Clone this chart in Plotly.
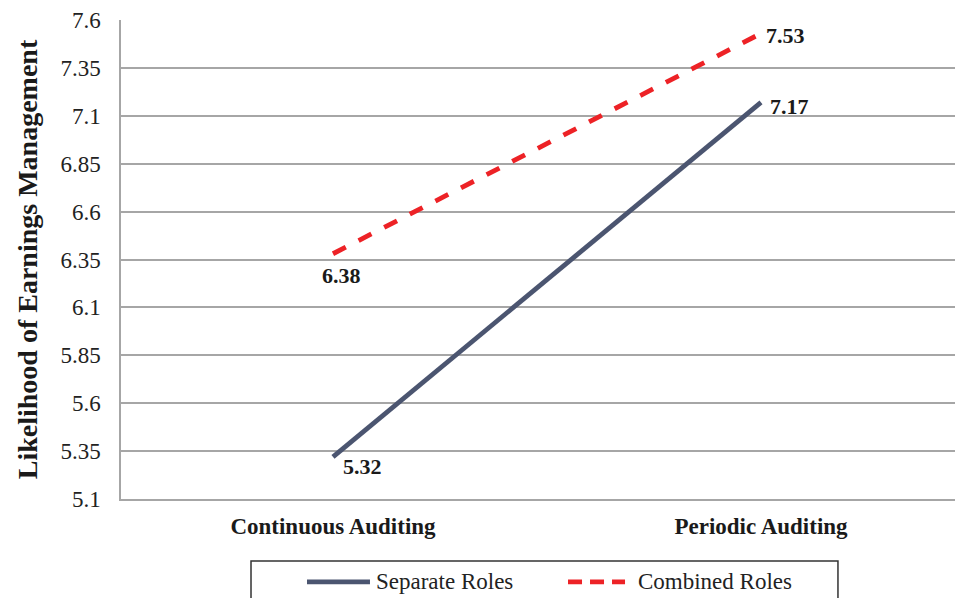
import plotly.graph_objects as go

categories = ["Continuous Auditing", "Periodic Auditing"]
separate_roles = [5.32, 7.17]
combined_roles = [6.38, 7.53]
series_names = ["Separate Roles", "Combined Roles"]
y_ticks = [5.1, 5.35, 5.6, 5.85, 6.1, 6.35, 6.6, 6.85, 7.1, 7.35, 7.6]
y_tick_labels = ["5.1", "5.35", "5.6", "5.85", "6.1", "6.35", "6.6", "6.85", "7.1", "7.35", "7.6"]

FONT = "Liberation Serif, Times New Roman, serif"
SEP_COLOR = "#4b5570"
COMB_COLOR = "#ed2226"
xpos = [0, 1]

fig = go.Figure()
fig.add_trace(go.Scatter(x=xpos, y=separate_roles, mode="lines", name=series_names[0],
                         showlegend=False, line=dict(color=SEP_COLOR, width=4.8)))
fig.add_trace(go.Scatter(x=xpos, y=combined_roles, mode="lines", name=series_names[1],
                         showlegend=False, line=dict(color=COMB_COLOR, width=4.8, dash="dash")))

# data labels
sep_offsets = [(30, -10), (29, -4)]
comb_offsets = [(9, -22), (25, -2)]
for i, v in enumerate(separate_roles):
    dx, dy = sep_offsets[i]
    fig.add_annotation(x=xpos[i], y=v, text=f"<b>{v:.2f}</b>", showarrow=False,
                       xshift=dx, yshift=dy, font=dict(family=FONT, size=22, color="#1a1a1a"))
for i, v in enumerate(combined_roles):
    dx, dy = comb_offsets[i]
    fig.add_annotation(x=xpos[i], y=v, text=f"<b>{v:.2f}</b>", showarrow=False,
                       xshift=dx, yshift=dy, font=dict(family=FONT, size=22, color="#1a1a1a"))

# legend (box, samples, labels)
LEG_Y = -0.173
fig.add_shape(type="rect", xref="paper", yref="paper", x0=0.1544, x1=0.8515, y0=-0.30, y1=-0.1294,
              line=dict(color="#333333", width=1.5), fillcolor="rgba(0,0,0,0)")
fig.add_shape(type="line", xref="paper", yref="paper", x0=0.2209, x1=0.2957, y0=LEG_Y, y1=LEG_Y,
              line=dict(color=SEP_COLOR, width=4.8))
fig.add_shape(type="line", xref="paper", yref="paper", x0=0.5309, x1=0.5986, y0=LEG_Y, y1=LEG_Y,
              line=dict(color=COMB_COLOR, width=4.8, dash="14px,8px"))
fig.add_annotation(xref="paper", yref="paper", x=0.3005, y=LEG_Y, text=series_names[0],
                   showarrow=False, xanchor="left", yanchor="middle",
                   font=dict(family=FONT, size=23, color="#222222"))
fig.add_annotation(xref="paper", yref="paper", x=0.6116, y=LEG_Y, text=series_names[1],
                   showarrow=False, xanchor="left", yanchor="middle",
                   font=dict(family=FONT, size=23, color="#222222"))

fig.update_layout(
    width=955, height=590,
    margin=dict(l=113, r=0, t=12, b=99),
    plot_bgcolor="white", paper_bgcolor="white",
    font=dict(family=FONT, size=22, color="#222222"),
    showlegend=False,
    xaxis=dict(range=[-0.4953, 1.472], tickvals=xpos,
               ticktext=[f"<b>{c}</b>" for c in categories],
               showgrid=False, zeroline=False, showline=True, linecolor="#a6a6a6", linewidth=1.5,
               ticks="outside", ticklen=6, tickcolor="rgba(0,0,0,0)",
               tickfont=dict(family=FONT, size=23, color="#1a1a1a")),
    yaxis=dict(range=[5.1, 7.6], tickvals=y_ticks, ticktext=y_tick_labels,
               showgrid=True, gridcolor="#a6a6a6", gridwidth=1.5, zeroline=False,
               showline=True, linecolor="#a6a6a6", linewidth=1.5,
               ticks="outside", ticklen=14, tickcolor="rgba(0,0,0,0)",
               tickfont=dict(family=FONT, size=23, color="#222222"),
               title=dict(text="<b>Likelihood of Earnings Management</b>",
                          font=dict(family=FONT, size=28, color="#1a1a1a"), standoff=15)),
)

fig.write_html("out.html")
